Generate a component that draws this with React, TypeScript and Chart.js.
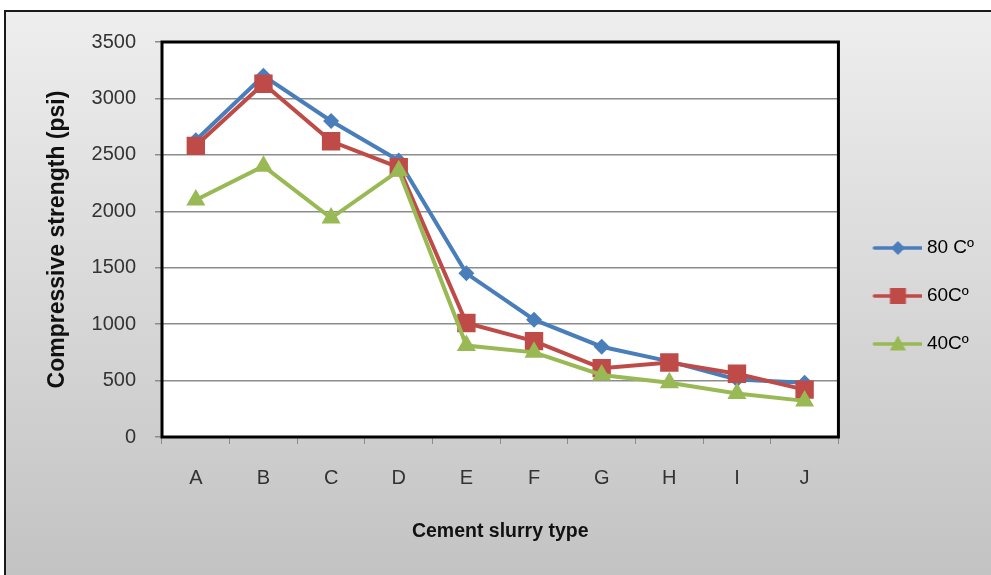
import React, { useEffect, useRef } from "react";
import { Chart, registerables } from "chart.js";

Chart.register(...registerables);

const categories = ["A", "B", "C", "D", "E", "F", "G", "H", "I", "J"];
const series80 = [2630, 3200, 2800, 2450, 1450, 1040, 800, 670, 510, 480];
const series60 = [2580, 3130, 2620, 2390, 1010, 850, 610, 660, 560, 420];
const series40 = [2100, 2400, 1940, 2360, 810, 750, 550, 480, 385, 320];
const seriesNames = ["80 Cº", "60Cº", "40Cº"];
const yTicks = [0, 500, 1000, 1500, 2000, 2500, 3000, 3500];

const BLUE = "#4a7ebb";
const RED = "#be4b48";
const GREEN = "#98b954";
const FONT = "'Liberation Sans', sans-serif";

function legendImage(color: string, style: string, radius: number): HTMLCanvasElement {
  const c = document.createElement("canvas");
  c.width = 60;
  c.height = 24;
  const ctx = c.getContext("2d")!;
  ctx.strokeStyle = color;
  ctx.lineWidth = 3.5;
  ctx.lineCap = "round";
  ctx.beginPath();
  ctx.moveTo(12, 12);
  ctx.lineTo(59, 12);
  ctx.stroke();
  ctx.fillStyle = color;
  ctx.beginPath();
  const x = 35.5, y = 12;
  if (style === "rectRot") {
    ctx.moveTo(x, y - radius);
    ctx.lineTo(x + radius, y);
    ctx.lineTo(x, y + radius);
    ctx.lineTo(x - radius, y);
  } else if (style === "rect") {
    ctx.rect(x - radius, y - radius, radius * 2, radius * 2);
  } else {
    ctx.moveTo(x, y - radius);
    ctx.lineTo(x + radius * 0.95, y + radius * 0.75);
    ctx.lineTo(x - radius * 0.95, y + radius * 0.75);
  }
  ctx.closePath();
  ctx.fill();
  return c;
}

const backgroundPlugin = {
  id: "bgFrame",
  beforeDraw(chart: any) {
    const { ctx, width, height, chartArea } = chart;
    ctx.save();
    ctx.fillStyle = "#ffffff";
    ctx.fillRect(0, 0, width, height);
    const g = ctx.createLinearGradient(0, 11, 0, height);
    g.addColorStop(0, "#eeeeee");
    g.addColorStop(1, "#c3c3c3");
    ctx.fillStyle = g;
    ctx.fillRect(5, 11, width - 5, height - 11);
    ctx.strokeStyle = "#1a1a1a";
    ctx.lineWidth = 2;
    ctx.beginPath();
    ctx.moveTo(5, height);
    ctx.lineTo(5, 11);
    ctx.lineTo(width, 11);
    ctx.stroke();
    ctx.fillStyle = "#ffffff";
    ctx.fillRect(chartArea.left, chartArea.top, chartArea.right - chartArea.left, chartArea.bottom - chartArea.top);
    ctx.restore();
  },
  afterDatasetsDraw(chart: any) {
    const { ctx, chartArea } = chart;
    ctx.save();
    ctx.strokeStyle = "#000000";
    ctx.lineWidth = 3;
    ctx.strokeRect(chartArea.left, chartArea.top, chartArea.right - chartArea.left, chartArea.bottom - chartArea.top);
    ctx.restore();
  },
};

export default function App() {
  const ref = useRef<HTMLCanvasElement | null>(null);

  useEffect(() => {
    if (!ref.current) return;
    const images = [
      legendImage(BLUE, "rectRot", 7),
      legendImage(RED, "rect", 8),
      legendImage(GREEN, "triangle", 8.5),
    ];
    const colors = [BLUE, RED, GREEN];
    const chart = new Chart(ref.current, {
      type: "line",
      data: {
        labels: categories,
        datasets: [
          {
            label: seriesNames[0],
            data: series80,
            borderColor: BLUE,
            backgroundColor: BLUE,
            borderWidth: 4,
            pointStyle: "rectRot",
            pointRadius: 8,
            pointBorderWidth: 0,
            order: 3,
          },
          {
            label: seriesNames[1],
            data: series60,
            borderColor: RED,
            backgroundColor: RED,
            borderWidth: 4,
            pointStyle: "rect",
            pointRadius: 13,
            pointBorderWidth: 0,
            order: 2,
          },
          {
            label: seriesNames[2],
            data: series40,
            borderColor: GREEN,
            backgroundColor: GREEN,
            borderWidth: 4,
            pointStyle: "triangle",
            pointRadius: 11,
            pointBorderWidth: 0,
            order: 1,
          },
        ],
      },
      options: {
        responsive: false,
        animation: false,
        layout: { padding: { left: 0, top: 42, right: 7, bottom: 25 } },
        plugins: {
          tooltip: { enabled: false },
          legend: {
            position: "right",
            labels: {
              usePointStyle: true,
              pointStyleWidth: 50,
              padding: 29,
              color: "#1a1a1a",
              font: { family: FONT, size: 19 },
              generateLabels: (chart: any) =>
                chart.data.datasets.map((ds: any, i: number) => ({
                  text: ds.label,
                  fillStyle: colors[i],
                  strokeStyle: colors[i],
                  lineWidth: 0,
                  pointStyle: images[i],
                  datasetIndex: i,
                  hidden: false,
                })),
            },
          },
        },
        scales: {
          x: {
            type: "category",
            offset: true,
            afterFit: (scale: any) => {
              scale.height = 113;
            },
            grid: {
              offset: true,
              drawOnChartArea: false,
              drawTicks: true,
              tickLength: 7,
              color: "#8c8c8c",
              lineWidth: 1,
            },
            border: { display: false },
            ticks: {
              padding: 22,
              color: "#333333",
              font: { family: FONT, size: 20 },
            },
            title: {
              display: true,
              text: "Cement slurry type",
              color: "#111111",
              font: { family: FONT, size: 19.5, weight: "bold" },
              padding: { top: 0, bottom: 7 },
            },
          },
          y: {
            min: 0,
            max: 3500,
            afterFit: (scale: any) => {
              scale.width = 162;
            },
            afterBuildTicks: (scale: any) => {
              scale.ticks = yTicks.map((v) => ({ value: v }));
            },
            grid: {
              drawTicks: true,
              tickLength: 7,
              color: "#8c8c8c",
              lineWidth: 1.5,
            },
            border: { display: false },
            ticks: {
              padding: 19,
              color: "#333333",
              font: { family: FONT, size: 20 },
              callback: (v: any) => String(v),
            },
            title: {
              display: true,
              text: "Compressive strength (psi)",
              color: "#111111",
              font: { family: FONT, size: 23, weight: "bold" },
              padding: { top: 44, bottom: 0 },
            },
          },
        },
      },
      plugins: [backgroundPlugin],
    } as any);
    return () => chart.destroy();
  }, []);

  return (
    <div style={{ position: "fixed", left: 0, top: 0, width: 991, height: 575 }}>
      <canvas ref={ref} width={991} height={575} style={{ display: "block", width: 991, height: 575 }} />
    </div>
  );
}
